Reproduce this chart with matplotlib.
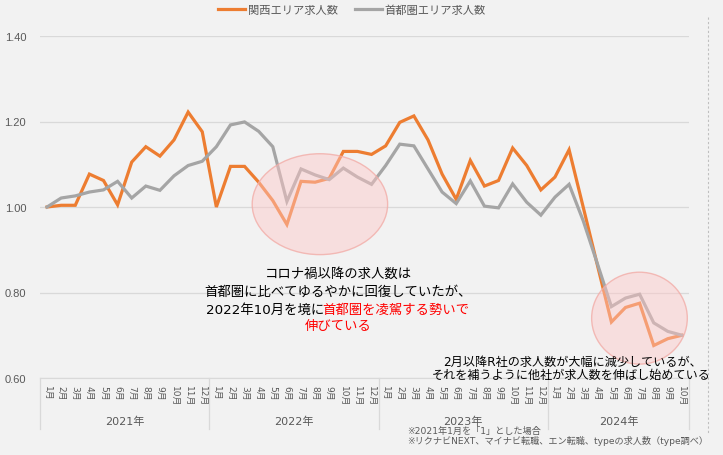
import matplotlib
matplotlib.use("Agg")
import matplotlib.pyplot as plt
from matplotlib.patches import Ellipse
from matplotlib.lines import Line2D
import numpy as np

# latin glyphs from DejaVu, japanese from Noto CJK
plt.rcParams['font.family'] = ['DejaVu Sans', 'Noto Sans CJK JP']

# data (2021年1月 = 1)
years = ['2021年', '2022年', '2023年', '2024年']
months_per_year = [12, 12, 12, 10]
kansai = [1.000, 1.004, 1.004, 1.077, 1.062, 1.005, 1.105, 1.141, 1.119, 1.157, 1.222, 1.176,
          1.000, 1.095, 1.095, 1.058, 1.015, 0.959, 1.060, 1.058, 1.067, 1.130, 1.130, 1.123,
          1.143, 1.198, 1.213, 1.157, 1.077, 1.018, 1.109, 1.049, 1.062, 1.138, 1.097, 1.040,
          1.070, 1.134, 1.000, 0.865, 0.731, 0.765, 0.775, 0.676, 0.692, 0.700]
shutoken = [1.000, 1.021, 1.026, 1.035, 1.040, 1.060, 1.021, 1.049, 1.039, 1.073, 1.097, 1.107,
            1.141, 1.192, 1.199, 1.177, 1.141, 1.013, 1.089, 1.075, 1.064, 1.091, 1.070, 1.053,
            1.097, 1.147, 1.143, 1.089, 1.035, 1.008, 1.061, 1.002, 0.998, 1.054, 1.011, 0.981,
            1.023, 1.053, 0.968, 0.868, 0.767, 0.787, 0.796, 0.729, 0.709, 0.700]
yticks = [0.60, 0.80, 1.00, 1.20, 1.40]

month_labels = []
for n in months_per_year:
    month_labels += ['{}月'.format(m) for m in range(1, n + 1)]

W, H = 723, 456
BG = '#F2F2F2'
TXT = '#595959'


def fx(x):
    return x / W


def fy(y):
    return 1 - y / H


fig = plt.figure(figsize=(W / 100, H / 100), dpi=100, facecolor=BG)
ax = fig.add_axes([fx(40), fy(379), fx(689) - fx(40), fy(37) - fy(379)])
ax.set_facecolor(BG)

x = np.arange(len(kansai))
ax.plot(x, kansai, color='#ED7D31', lw=2.3, solid_joinstyle='miter', zorder=3, label='関西エリア求人数')
ax.plot(x, shutoken, color='#A5A5A5', lw=2.3, solid_joinstyle='miter', zorder=3, label='首都圏エリア求人数')

ax.set_xlim(-0.5, len(kansai) - 0.5)
ax.set_ylim(0.6, 1.4)
ax.set_yticks(yticks)
ax.set_yticklabels(['{:.2f}'.format(v) for v in yticks], family='Liberation Sans')
ax.tick_params(axis='y', length=0, pad=10, labelsize=8, labelcolor=TXT)
ax.set_xticks([])
for s in ['left', 'right', 'top']:
    ax.spines[s].set_visible(False)
ax.spines['bottom'].set_color('#D9D9D9')
ax.grid(axis='y', color='#D9D9D9', lw=0.9)
ax.set_axisbelow(True)

# highlight circles
ax.add_patch(Ellipse((19.34, 1.0066), 9.6, 0.236, facecolor=(1, 0.78, 0.78, 0.45),
                     edgecolor=(0.95, 0.68, 0.66, 0.8), lw=1, zorder=4))
ax.add_patch(Ellipse((41.99, 0.740), 6.78, 0.215, facecolor=(1, 0.78, 0.78, 0.45),
                     edgecolor=(0.95, 0.68, 0.66, 0.8), lw=1, zorder=4))

# category axis (month / year)
trans = ax.get_xaxis_transform()
for i, lab in enumerate(month_labels):
    ax.text(i, -0.020, lab, transform=trans, rotation=270, ha='center', va='top',
            fontsize=6.5, color=TXT)
start = 0
bounds = [-0.5]
for yr, n in zip(years, months_per_year):
    ax.text(start + (n - 1) / 2, -0.126, yr, transform=trans, ha='center', va='center',
            fontsize=8, color=TXT)
    start += n
    bounds.append(start - 0.5)
for b in bounds:
    ax.plot([b, b], [0, -0.149], transform=trans, color='#D9D9D9', lw=0.9, clip_on=False)

# legend
fig.legend(loc='center', bbox_to_anchor=(fx(352), fy(11)), ncol=2, frameon=False,
           fontsize=8.1, labelcolor=TXT, handlelength=2.4, handletextpad=0.25,
           columnspacing=1.5)

# main annotation
fs = 9.6
cx = 338
fig.text(fx(cx), fy(274), 'コロナ禍以降の求人数は', ha='center', va='center', fontsize=fs, color='black')
fig.text(fx(cx), fy(292), '首都圏に比べてゆるやかに回復していたが、', ha='center', va='center', fontsize=fs, color='black')
t1 = fig.text(0, fy(310), '2022年10月を境に', ha='left', va='center', fontsize=fs, color='black')
t2 = fig.text(0, fy(310), '首都圏を凌駕する勢いで', ha='left', va='center', fontsize=fs, color='#FF0000')
fig.text(fx(cx), fy(327), '伸びている', ha='center', va='center', fontsize=fs, color='#FF0000')
r = fig.canvas.get_renderer()
w1 = t1.get_window_extent(r).width - 2
w2 = t2.get_window_extent(r).width
x0 = cx - (w1 + w2) / 2
t1.set_x(fx(x0))
t2.set_x(fx(x0 + w1))

# right annotation
fig.text(fx(573), fy(362), '2月以降R社の求人数が大幅に減少しているが、', ha='center', va='center',
         fontsize=8.7, color='black')
fig.text(fx(571), fy(375.5), 'それを補うように他社が求人数を伸ばし始めている', ha='center', va='center',
         fontsize=8.7, color='black')

# notes
fig.text(fx(407), fy(431), '※2021年1月を「1」とした場合', ha='left', va='center', fontsize=6.6, color=TXT)
fig.text(fx(407), fy(441.5), '※リクナビNEXT、マイナビ転職、エン転職、typeの求人数（type調べ）', ha='left',
         va='center', fontsize=6.6, color=TXT)

# dotted frame edge on the right
fig.add_artist(Line2D([fx(708), fx(708)], [fy(18), fy(435)], color='#BFBFBF', lw=0.8, ls=(0, (2, 2))))

fig.savefig('out.png', dpi=100, facecolor=BG)
